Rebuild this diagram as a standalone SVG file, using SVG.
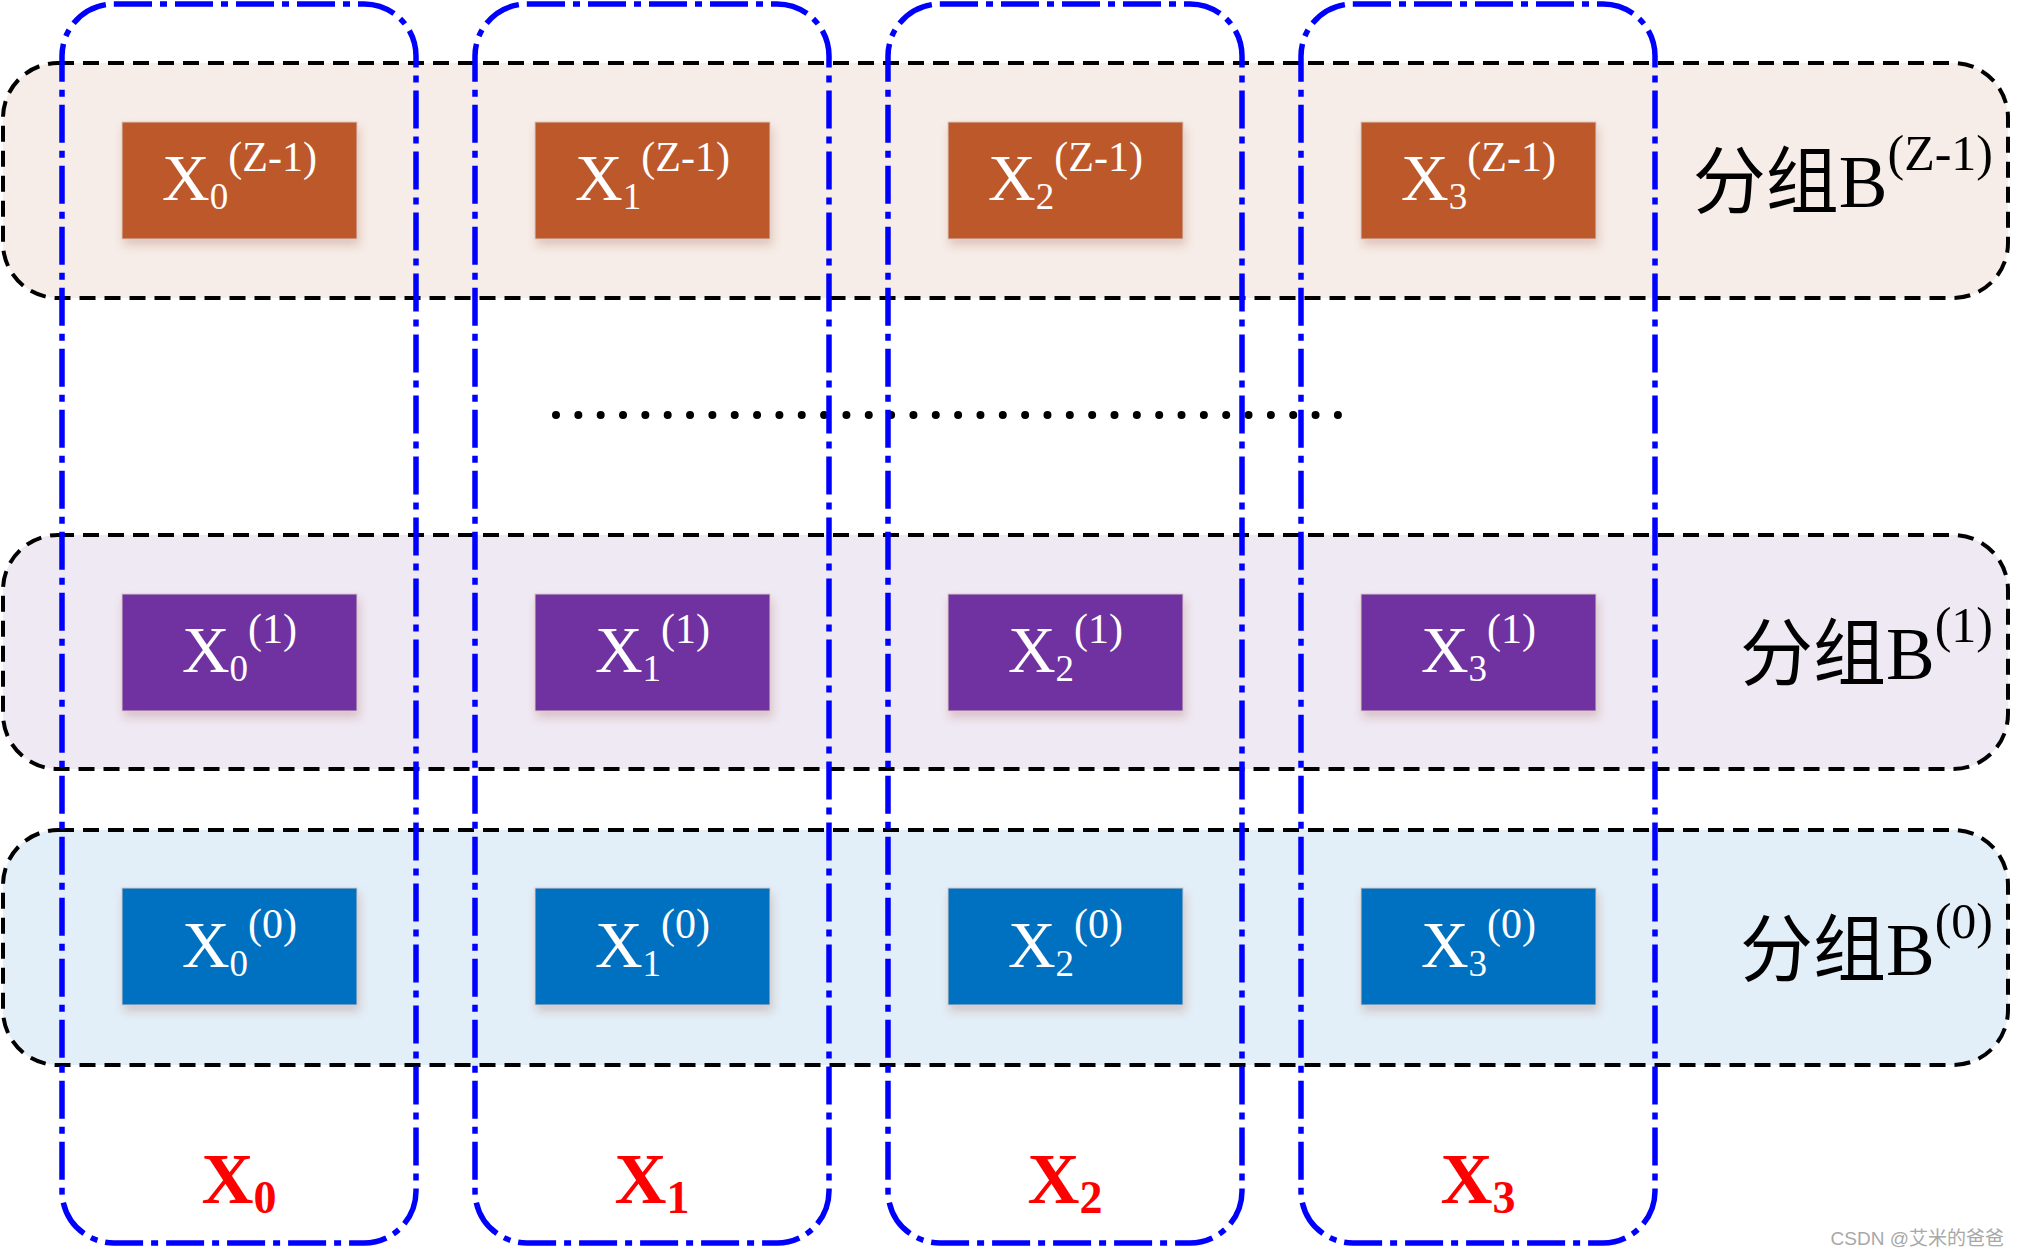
<svg xmlns="http://www.w3.org/2000/svg" width="2018" height="1258" viewBox="0 0 2018 1258">
<defs>
<filter id="sh" x="-10%" y="-10%" width="125%" height="140%">
<feDropShadow dx="2" dy="6" stdDeviation="5" flood-color="#8a3a20" flood-opacity="0.22"/>
</filter>
<style>
.band{stroke:#000;stroke-width:4;stroke-dasharray:16 9;}
.col{fill:none;stroke:#0000FF;stroke-width:5.5;stroke-dasharray:38 8 7 8;}
.node{stroke:#d8c8c4;stroke-width:1;filter:url(#sh);}
.o{fill:#BD592C;}
.p{fill:#7030A0;}
.b{fill:#0070C0;}
.nt{font-family:"Liberation Serif","Times New Roman",serif;fill:#fff;font-size:66px;text-anchor:middle;}
.lab{font-family:"Liberation Serif","Noto Sans CJK SC",serif;fill:#000;font-size:73px;text-anchor:end;}
.red{font-family:"Liberation Serif","Times New Roman",serif;fill:#FF0000;font-weight:bold;font-size:72px;text-anchor:middle;}
.sub{font-size:37px;}
.sup{font-size:42px;}
</style>
</defs>
<rect width="2018" height="1258" fill="#fff"/>

<g id="bands">
<g id="groupZ1"><rect class="band" x="3" y="63" width="2005" height="235" rx="55" fill="#F7EDE8"/>
<text class="lab" x="1993" y="207">分组B<tspan font-size="50" dy="-37">(Z-1)</tspan></text></g>
<g id="group1"><rect class="band" x="3" y="535" width="2005" height="234" rx="55" fill="#EFE9F4"/>
<text class="lab" x="1993" y="679">分组B<tspan font-size="50" dy="-37">(1)</tspan></text></g>
<g id="group0"><rect class="band" x="3" y="830" width="2005" height="235" rx="55" fill="#E3EFF8"/>
<text class="lab" x="1993" y="975">分组B<tspan font-size="50" dy="-37">(0)</tspan></text></g>
</g>

<g id="ellipsis">
<line x1="556" y1="415" x2="1338" y2="415" stroke="#000" stroke-width="8" stroke-linecap="round" stroke-dasharray="0 22.34"/>
</g>

<g id="columns">
<g id="colX0"><rect class="col" x="62" y="4" width="354" height="1239" rx="52"/>
<text class="red" x="239" y="1203">X<tspan font-size="46" dy="10">0</tspan></text></g>
<g id="colX1"><rect class="col" x="475" y="4" width="354" height="1239" rx="52"/>
<text class="red" x="652" y="1203">X<tspan font-size="46" dy="10">1</tspan></text></g>
<g id="colX2"><rect class="col" x="888" y="4" width="354" height="1239" rx="52"/>
<text class="red" x="1065" y="1203">X<tspan font-size="46" dy="10">2</tspan></text></g>
<g id="colX3"><rect class="col" x="1301" y="4" width="354" height="1239" rx="52"/>
<text class="red" x="1478" y="1203">X<tspan font-size="46" dy="10">3</tspan></text></g>
</g>

<g id="nodes">
<g id="n0_z"><rect class="node o" x="122" y="122" width="235" height="117"/><text class="nt" x="239.5" y="200">X<tspan class="sub" dy="9">0</tspan><tspan class="sup" dy="-38">(Z-1)</tspan></text></g>
<g id="n1_z"><rect class="node o" x="535" y="122" width="235" height="117"/><text class="nt" x="652.5" y="200">X<tspan class="sub" dy="9">1</tspan><tspan class="sup" dy="-38">(Z-1)</tspan></text></g>
<g id="n2_z"><rect class="node o" x="948" y="122" width="235" height="117"/><text class="nt" x="1065.5" y="200">X<tspan class="sub" dy="9">2</tspan><tspan class="sup" dy="-38">(Z-1)</tspan></text></g>
<g id="n3_z"><rect class="node o" x="1361" y="122" width="235" height="117"/><text class="nt" x="1478.5" y="200">X<tspan class="sub" dy="9">3</tspan><tspan class="sup" dy="-38">(Z-1)</tspan></text></g>

<g id="n0_1"><rect class="node p" x="122" y="594" width="235" height="117"/><text class="nt" x="239.5" y="672">X<tspan class="sub" dy="9">0</tspan><tspan class="sup" dy="-38">(1)</tspan></text></g>
<g id="n1_1"><rect class="node p" x="535" y="594" width="235" height="117"/><text class="nt" x="652.5" y="672">X<tspan class="sub" dy="9">1</tspan><tspan class="sup" dy="-38">(1)</tspan></text></g>
<g id="n2_1"><rect class="node p" x="948" y="594" width="235" height="117"/><text class="nt" x="1065.5" y="672">X<tspan class="sub" dy="9">2</tspan><tspan class="sup" dy="-38">(1)</tspan></text></g>
<g id="n3_1"><rect class="node p" x="1361" y="594" width="235" height="117"/><text class="nt" x="1478.5" y="672">X<tspan class="sub" dy="9">3</tspan><tspan class="sup" dy="-38">(1)</tspan></text></g>

<g id="n0_0"><rect class="node b" x="122" y="888" width="235" height="117"/><text class="nt" x="239.5" y="967">X<tspan class="sub" dy="9">0</tspan><tspan class="sup" dy="-38">(0)</tspan></text></g>
<g id="n1_0"><rect class="node b" x="535" y="888" width="235" height="117"/><text class="nt" x="652.5" y="967">X<tspan class="sub" dy="9">1</tspan><tspan class="sup" dy="-38">(0)</tspan></text></g>
<g id="n2_0"><rect class="node b" x="948" y="888" width="235" height="117"/><text class="nt" x="1065.5" y="967">X<tspan class="sub" dy="9">2</tspan><tspan class="sup" dy="-38">(0)</tspan></text></g>
<g id="n3_0"><rect class="node b" x="1361" y="888" width="235" height="117"/><text class="nt" x="1478.5" y="967">X<tspan class="sub" dy="9">3</tspan><tspan class="sup" dy="-38">(0)</tspan></text></g>
</g>

<text x="2004" y="1245" font-family="'Liberation Sans','Noto Sans CJK SC',sans-serif" font-size="19" fill="#A8A8A8" text-anchor="end">CSDN @艾米的爸爸</text>
</svg>
